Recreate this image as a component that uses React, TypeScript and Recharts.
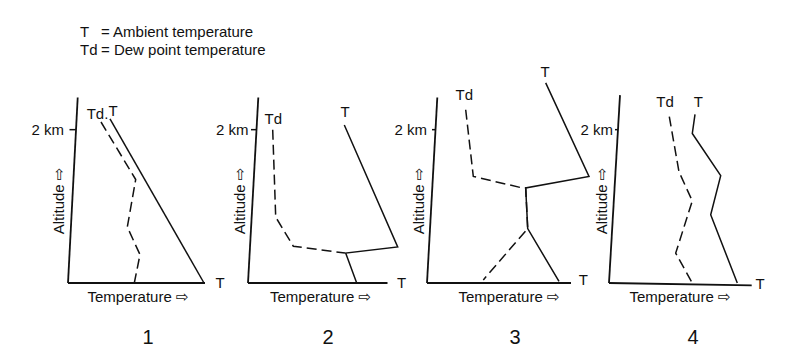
import React from "react";
import { ComposedChart, Line, XAxis, YAxis, ReferenceLine, ReferenceDot } from "recharts";

// [temperature (arbitrary units), altitude (km)]
const p1Temp = [[8.4, 2.14], [27.2, 0]];
const p1Dew = [[6.6, 2.1], [13.54, 1.35], [11.86, 0.73], [14.4, 0.37], [13.26, 0]];
const p2Temp = [[19.26, 2.06], [29.94, 0.47], [19.54, 0.39], [21.74, 0]];
const p2Dew = [[4.94, 2.0], [5.54, 0.86], [9.06, 0.48], [19.4, 0.39]];
const p3Temp = [[23.74, 2.61], [32.4, 1.39], [19.74, 1.24], [20.14, 0.71], [26.4, 0.02]];
const p3Dew = [[7.74, 2.26], [9.26, 1.39], [19.06, 1.24], [19.74, 1.24], [20.14, 0.71], [11.26, 0.04]];
const p4Temp = [[17.2, 2.2], [16.66, 1.95], [22.34, 1.4], [20.34, 0.89], [25.66, 0]];
const p4Dew = [[12.06, 2.17], [14, 1.45], [16.66, 1.07], [13.34, 0.39], [16.66, 0]];

const panelNames = ["1", "2", "3", "4"];
const legendLines = [
  ["T", "= Ambient temperature"],
  ["Td", "= Dew point temperature"],
];

const toPts = (arr: number[][]) => arr.map(([t, z]) => ({ t, z }));

// layout of each panel (hand drawn axes, label spots)
const panels = [
  {
    left: 8, temp: p1Temp, dew: p1Dew,
    axisTop: { x: 1.94, y: 2.42 }, axisEnd: { x: 27.4, y: 0 },
    tick: [0.3, 1.6], kmLabel: -0.4,
    dewLabel: { x: 5.9, y: 2.21, v: "Td." }, tempLabel: { x: 9, y: 2.25 },
    endT: { x: 30.4, y: 0 }, alt: -1.94, tempTitle: 14, num: 16,
  },
  {
    left: 188, temp: p2Temp, dew: p2Dew,
    axisTop: { x: 2.06, y: 2.42 }, axisEnd: { x: 27.9, y: 0 },
    tick: [0.6, 1.7], kmLabel: 0.5,
    dewLabel: { x: 5.06, y: 2.14, v: "Td" }, tempLabel: { x: 19.4, y: 2.23 },
    endT: { x: 30.74, y: 0 }, alt: -1.6, tempTitle: 14.5, num: 16,
  },
  {
    left: 367, temp: p3Temp, dew: p3Dew,
    axisTop: { x: 2.06, y: 2.42 }, axisEnd: { x: 28.8, y: 0 },
    tick: [1.0, 1.6], kmLabel: 0.4,
    dewLabel: { x: 7.46, y: 2.46, v: "Td" }, tempLabel: { x: 23.6, y: 2.76 },
    endT: { x: 31.26, y: 0.04 }, alt: -1.74, tempTitle: 16.4, num: 17.6,
  },
  {
    left: 549, temp: p4Temp, dew: p4Dew,
    axisTop: { x: 2.2, y: 2.45 }, axisEnd: { x: 28.54, y: -0.03 },
    tick: [1.2, 1.8], kmLabel: 1.2,
    dewLabel: { x: 11.2, y: 2.36, v: "Td" }, tempLabel: { x: 17.86, y: 2.36 },
    endT: { x: 30.2, y: -0.01 }, alt: -1.46, tempTitle: 14.2, num: 16.8,
  },
];

const FONT = "'Liberation Sans', Arial, 'DejaVu Sans', sans-serif";
const INK = "#111";

const txt = (value: string, extra: any = {}) => ({
  value,
  position: "center",
  fontSize: 15,
  fill: INK,
  fontFamily: FONT,
  ...extra,
});

function Panel({ p, name }: { p: any; name: string }) {
  return (
    <div style={{ position: "absolute", left: p.left, top: 53 }}>
      <ComposedChart width={230} height={299} margin={{ top: 0, right: 0, bottom: 0, left: 0 }}>
        <XAxis dataKey="t" type="number" domain={[-12, 34]} allowDataOverflow hide />
        <YAxis dataKey="z" type="number" domain={[-0.9, 3]} allowDataOverflow hide />
        <ReferenceLine segment={[{ x: 0, y: 0 }, p.axisTop]} stroke={INK} strokeWidth={1.8} ifOverflow="visible" />
        <ReferenceLine segment={[{ x: 0, y: 0 }, p.axisEnd]} stroke={INK} strokeWidth={1.8} ifOverflow="visible" />
        <ReferenceLine segment={[{ x: p.tick[0], y: 2 }, { x: p.tick[1], y: 2 }]} stroke={INK} strokeWidth={1.5} ifOverflow="visible" />
        <Line data={toPts(p.temp)} dataKey="z" type="linear" stroke={INK} strokeWidth={1.5} dot={false} activeDot={false} isAnimationActive={false} />
        <Line data={toPts(p.dew)} dataKey="z" type="linear" stroke={INK} strokeWidth={1.5} strokeDasharray="10 5" dot={false} activeDot={false} isAnimationActive={false} />
        <ReferenceDot x={p.kmLabel} y={2} r={0} stroke="none" fill="none" ifOverflow="visible" label={txt("2 km", { position: "left", offset: 2 })} />
        <ReferenceDot x={p.dewLabel.x} y={p.dewLabel.y} r={0} stroke="none" fill="none" ifOverflow="visible" label={txt(p.dewLabel.v)} />
        <ReferenceDot x={p.tempLabel.x} y={p.tempLabel.y} r={0} stroke="none" fill="none" ifOverflow="visible" label={txt("T")} />
        <ReferenceDot x={p.endT.x} y={p.endT.y} r={0} stroke="none" fill="none" ifOverflow="visible" label={txt("T")} />
        <ReferenceDot x={p.alt} y={1.07} r={0} stroke="none" fill="none" ifOverflow="visible" label={txt("Altitude ⇨", { angle: -90 })} />
        <ReferenceDot x={p.tempTitle} y={-0.18} r={0} stroke="none" fill="none" ifOverflow="visible" label={txt("Temperature ⇨")} />
        <ReferenceDot x={p.num} y={-0.7} r={0} stroke="none" fill="none" ifOverflow="visible" label={txt(name, { fontSize: 20 })} />
      </ComposedChart>
    </div>
  );
}

export default function App() {
  return (
    <div style={{ position: "absolute", left: 0, top: 0, width: 800, height: 363, background: "#fff", fontFamily: FONT, color: INK }}>
      {legendLines.map(([sym, desc], i) => (
        <React.Fragment key={sym}>
          <div style={{ position: "absolute", left: 80, top: 24 + i * 18, fontSize: 15, lineHeight: "15px" }}>{sym}</div>
          <div style={{ position: "absolute", left: 101, top: 24 + i * 18, fontSize: 15, lineHeight: "15px", whiteSpace: "nowrap" }}>{desc}</div>
        </React.Fragment>
      ))}
      {panels.map((p, i) => (
        <Panel key={i} p={p} name={panelNames[i]} />
      ))}
    </div>
  );
}
